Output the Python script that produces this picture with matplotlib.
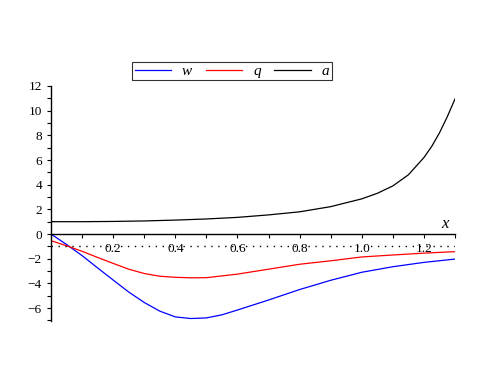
import numpy as np
import matplotlib
matplotlib.use('agg')
import matplotlib.pyplot as plt
from matplotlib.ticker import MultipleLocator

# values
x_w = [0, 0.05, 0.1, 0.15, 0.2, 0.25, 0.3, 0.35, 0.4, 0.45, 0.5, 0.55, 0.6, 0.7, 0.8, 0.9, 1.0, 1.1, 1.2, 1.3]
w = [0, -0.85, -1.75, -2.75, -3.73, -4.7, -5.55, -6.25, -6.72, -6.85, -6.8, -6.55, -6.16, -5.35, -4.5, -3.75, -3.1, -2.65, -2.3, -2.03]

x_q = [0, 0.05, 0.1, 0.15, 0.2, 0.25, 0.3, 0.35, 0.4, 0.45, 0.5, 0.6, 0.7, 0.8, 0.9, 1.0, 1.1, 1.2, 1.3]
q = [-0.54, -0.95, -1.4, -1.9, -2.38, -2.85, -3.2, -3.42, -3.51, -3.55, -3.54, -3.25, -2.85, -2.45, -2.17, -1.86, -1.7, -1.55, -1.43]

x_a = [0, 0.1, 0.2, 0.3, 0.4, 0.5, 0.6, 0.7, 0.8, 0.9, 1.0, 1.05, 1.1, 1.15, 1.2, 1.225, 1.25, 1.275, 1.3]
a = [1.0, 1.0, 1.02, 1.06, 1.13, 1.22, 1.35, 1.55, 1.8, 2.22, 2.85, 3.3, 3.9, 4.8, 6.2, 7.1, 8.2, 9.5, 10.95]

serif = ['Liberation Serif', 'DejaVu Serif']

fig = plt.figure(figsize=(4.91, 3.82), dpi=100)
ax = fig.add_axes([0.1039, 0.1597, 0.8228, 0.6152])

ax.plot(x_w, w, color='#0000ff', lw=0.9, label='w')
ax.plot(x_q, q, color='#ff0000', lw=0.9, label='q')
ax.plot(x_a, a, color='black', lw=0.9, label='a')
ax.axhline(-1, color='black', lw=1.0, ls=(0, (1, 4)))

ax.set_xlim(0, 1.3)
ax.set_ylim(-7.05, 12)

# axes through the origin, Maple style
for s in ['top', 'right']:
    ax.spines[s].set_visible(False)
ax.spines['bottom'].set_position(('data', 0))
ax.spines['left'].set_linewidth(1.0)
ax.spines['bottom'].set_linewidth(1.0)

ax.xaxis.set_minor_locator(MultipleLocator(0.1))
ax.yaxis.set_major_locator(MultipleLocator(2))
ax.yaxis.set_minor_locator(MultipleLocator(1))
ax.set_xticks([0.2, 0.4, 0.6, 0.8, 1.0, 1.2])
ax.set_xticklabels(['0.2', '0.4', '0.6', '0.8', '1.0', '1.2'])
ax.tick_params(which='both', direction='out', length=3, width=0.8)
ax.tick_params(labelsize=9.5)
for t in ax.get_xticklabels() + ax.get_yticklabels():
    t.set_family(serif)

ax.text(1.255, 0.45, 'x', fontsize=12, style='italic', family=serif)

leg = fig.legend(loc='center', bbox_to_anchor=(232 / 491, 1 - 71 / 382), ncol=3,
                 prop={'family': serif, 'style': 'italic', 'size': 11},
                 frameon=True, fancybox=False, edgecolor='black',
                 borderpad=0.15, handlelength=2.4, columnspacing=0.9,
                 handletextpad=0.7, borderaxespad=0)
leg.get_frame().set_linewidth(0.8)

fig.savefig('out.png', dpi=100)
